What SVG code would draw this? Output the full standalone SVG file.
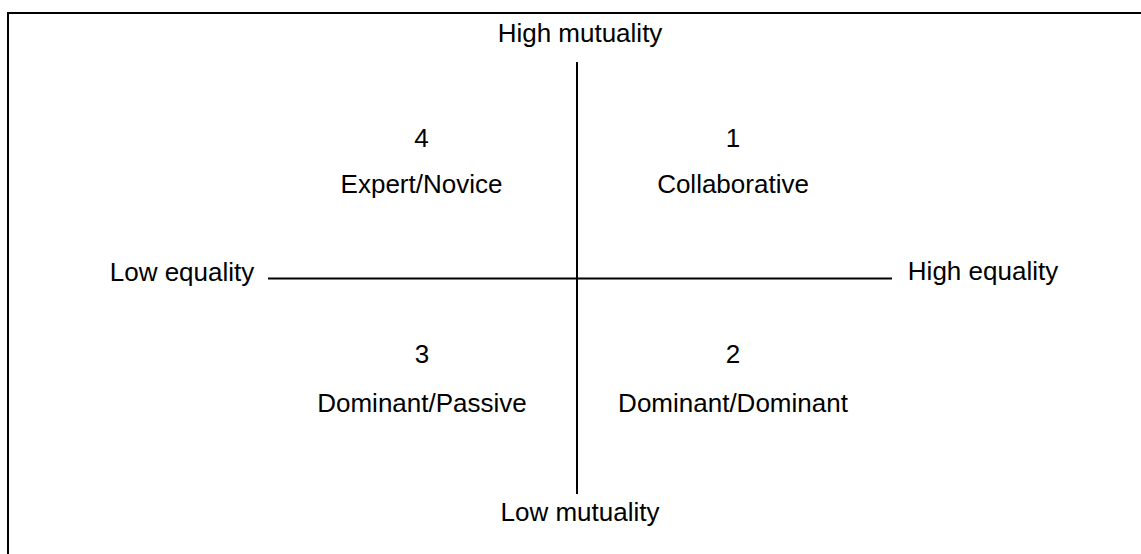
<svg xmlns="http://www.w3.org/2000/svg" width="1141" height="554" viewBox="0 0 1141 554">
  <style>
    text { font-family: "Liberation Sans", Arial, Helvetica, sans-serif; font-size: 26px; fill: #000; text-anchor: middle; }
    .axis { stroke: #000; stroke-width: 2; fill: none; }
  </style>
  <rect x="0" y="0" width="1141" height="554" fill="#fff"/>
  <rect x="8" y="13" width="1160" height="580" fill="none" stroke="#000" stroke-width="2"/>
  <g id="connectors">
    <line class="axis" x1="577" y1="62" x2="577" y2="494"/>
    <line class="axis" x1="268" y1="278.5" x2="892" y2="278.5"/>
  </g>
  <g id="label-high-mutuality"><text x="580" y="41.5">High mutuality</text></g>
  <g id="label-low-mutuality"><text x="580" y="521">Low mutuality</text></g>
  <g id="label-low-equality"><text x="182" y="281">Low equality</text></g>
  <g id="label-high-equality"><text x="983" y="280">High equality</text></g>
  <g id="q4">
    <text x="421.5" y="146.5">4</text>
    <text x="421.5" y="193">Expert/Novice</text>
  </g>
  <g id="q1">
    <text x="733" y="146.5">1</text>
    <text x="733" y="193">Collaborative</text>
  </g>
  <g id="q3">
    <text x="422" y="363">3</text>
    <text x="422" y="412">Dominant/Passive</text>
  </g>
  <g id="q2">
    <text x="733" y="363">2</text>
    <text x="733" y="412">Dominant/Dominant</text>
  </g>
</svg>
